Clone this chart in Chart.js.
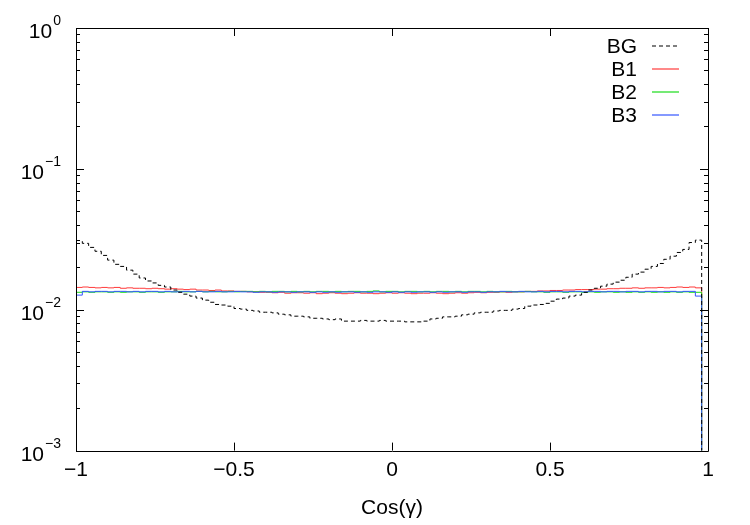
<!DOCTYPE html>
<html>
<head>
<meta charset="utf-8">
<script src="https://cdn.jsdelivr.net/npm/chart.js@4"></script>
<style>
  html, body { margin: 0; padding: 0; background: #fff; }
  #chart { display: block; }
</style>
</head>
<body>
<canvas id="chart" width="750" height="525"></canvas>
<script>
// histogram of cos(gamma): 100 bins from -1 to 1
const xMin = -1;
const xMax = 1;
const nBins = 100;
const xTicks = [-1, -0.5, 0, 0.5, 1];
const yDecades = [1, 0.1, 0.01, 0.001];
const yExponents = ["0", "−1", "−2", "−3"];
const seriesNames = ["BG", "B1", "B2", "B3"];
const emptyBin = 1e-6; // empty bins sit below the axis

const bg = [
  0.0310, 0.0296, 0.0277, 0.0260, 0.0243, 0.0225, 0.0210, 0.0203, 0.0191, 0.0179,
  0.0168, 0.0160, 0.0155, 0.0149, 0.0145, 0.0138, 0.0133, 0.0129, 0.0125, 0.0121,
  0.0117, 0.0113, 0.0109, 0.0108, 0.0106, 0.0102, 0.0101, 0.0099, 0.0098, 0.0096,
  0.0096, 0.0095, 0.0093, 0.0092, 0.0090, 0.0090, 0.0089, 0.0087, 0.0087, 0.0086,
  0.0085, 0.0086, 0.0083, 0.0083, 0.0083, 0.0084, 0.0083, 0.0083, 0.0084, 0.0083,
  0.0083, 0.0083, 0.0082, 0.0082, 0.0082, 0.0083, 0.0086, 0.0087, 0.0089, 0.0089,
  0.0090, 0.0092, 0.0093, 0.0095, 0.0096, 0.0096, 0.0098, 0.0099, 0.0099, 0.0101,
  0.0102, 0.0106, 0.0108, 0.0109, 0.0111, 0.0115, 0.0119, 0.0121, 0.0125, 0.0127,
  0.0133, 0.0138, 0.0142, 0.0147, 0.0152, 0.0157, 0.0162, 0.0170, 0.0179, 0.0185,
  0.0194, 0.0203, 0.0213, 0.0228, 0.0240, 0.0255, 0.0268, 0.0300, 0.0312, 0
];
const b1 = [
  0.0144, 0.0145, 0.0144, 0.0143, 0.0144, 0.0143, 0.0144, 0.0142, 0.0143, 0.0142,
  0.0142, 0.0141, 0.0142, 0.0141, 0.0140, 0.0141, 0.0140, 0.0139, 0.0140, 0.0138,
  0.0138, 0.0137, 0.0138, 0.0136, 0.0136, 0.0135, 0.0135, 0.0134, 0.0134, 0.0133,
  0.0133, 0.0132, 0.0133, 0.0131, 0.0132, 0.0132, 0.0131, 0.0132, 0.0130, 0.0131,
  0.0132, 0.0131, 0.0130, 0.0131, 0.0132, 0.0131, 0.0131, 0.0130, 0.0131, 0.0132,
  0.0131, 0.0132, 0.0131, 0.0130, 0.0131, 0.0131, 0.0132, 0.0131, 0.0130, 0.0131,
  0.0132, 0.0131, 0.0132, 0.0133, 0.0132, 0.0133, 0.0133, 0.0134, 0.0133, 0.0134,
  0.0134, 0.0135, 0.0135, 0.0136, 0.0136, 0.0137, 0.0137, 0.0138, 0.0138, 0.0139,
  0.0139, 0.0139, 0.0140, 0.0140, 0.0141, 0.0141, 0.0142, 0.0142, 0.0143, 0.0142,
  0.0143, 0.0143, 0.0144, 0.0143, 0.0144, 0.0145, 0.0144, 0.0145, 0.0143, 0
];
const b2 = [
  0.0133, 0.0134, 0.0133, 0.0134, 0.0134, 0.0133, 0.0134, 0.0133, 0.0134, 0.0134,
  0.0133, 0.0134, 0.0134, 0.0133, 0.0134, 0.0134, 0.0135, 0.0134, 0.0134, 0.0135,
  0.0134, 0.0135, 0.0134, 0.0134, 0.0135, 0.0134, 0.0135, 0.0135, 0.0134, 0.0135,
  0.0134, 0.0135, 0.0135, 0.0134, 0.0135, 0.0134, 0.0135, 0.0134, 0.0135, 0.0135,
  0.0134, 0.0135, 0.0134, 0.0135, 0.0135, 0.0134, 0.0135, 0.0136, 0.0134, 0.0135,
  0.0135, 0.0134, 0.0135, 0.0135, 0.0134, 0.0135, 0.0134, 0.0135, 0.0135, 0.0134,
  0.0135, 0.0134, 0.0135, 0.0135, 0.0134, 0.0135, 0.0134, 0.0134, 0.0135, 0.0134,
  0.0134, 0.0135, 0.0134, 0.0134, 0.0133, 0.0134, 0.0134, 0.0133, 0.0134, 0.0134,
  0.0133, 0.0134, 0.0133, 0.0134, 0.0134, 0.0133, 0.0134, 0.0133, 0.0134, 0.0133,
  0.0134, 0.0133, 0.0134, 0.0133, 0.0134, 0.0133, 0.0134, 0.0133, 0.0133, 0
];
const b3 = [
  0.0127, 0.0135, 0.0134, 0.0135, 0.0135, 0.0134, 0.0135, 0.0135, 0.0134, 0.0135,
  0.0134, 0.0135, 0.0135, 0.0134, 0.0135, 0.0134, 0.0134, 0.0135, 0.0134, 0.0135,
  0.0134, 0.0134, 0.0135, 0.0134, 0.0134, 0.0135, 0.0134, 0.0134, 0.0133, 0.0134,
  0.0134, 0.0133, 0.0134, 0.0134, 0.0133, 0.0134, 0.0134, 0.0133, 0.0134, 0.0133,
  0.0134, 0.0133, 0.0134, 0.0134, 0.0133, 0.0134, 0.0133, 0.0134, 0.0134, 0.0133,
  0.0134, 0.0133, 0.0134, 0.0133, 0.0134, 0.0134, 0.0133, 0.0134, 0.0133, 0.0134,
  0.0134, 0.0133, 0.0134, 0.0134, 0.0133, 0.0134, 0.0134, 0.0135, 0.0134, 0.0134,
  0.0135, 0.0134, 0.0134, 0.0135, 0.0134, 0.0135, 0.0135, 0.0134, 0.0135, 0.0135,
  0.0134, 0.0135, 0.0135, 0.0134, 0.0135, 0.0135, 0.0134, 0.0135, 0.0135, 0.0134,
  0.0135, 0.0135, 0.0134, 0.0135, 0.0135, 0.0134, 0.0135, 0.0135, 0.0125, 0
];

const font = "Liberation Sans, Arial, Helvetica, sans-serif";
const binWidth = (xMax - xMin) / nBins;

// step points: left edge of every bin, plus the right edge of the last one
const toSteps = (vals) => {
  const pts = vals.map((v, i) => ({ x: xMin + i * binWidth, y: v > 0 ? v : emptyBin }));
  pts.push({ x: xMax, y: pts[pts.length - 1].y });
  return pts;
};

const styles = [
  { color: "#000000", dash: [4, 3], order: 0 },
  { color: "#ff3a3a", dash: [], order: 3 },
  { color: "#18dc18", dash: [], order: 2 },
  { color: "#3355ff", dash: [], order: 1 },
];

const datasets = [bg, b1, b2, b3].map((vals, i) => ({
  label: seriesNames[i],
  data: toSteps(vals),
  borderColor: styles[i].color,
  borderDash: styles[i].dash,
  borderWidth: 1,
  stepped: "before",
  pointRadius: 0,
  fill: false,
  order: styles[i].order,
}));

// box, inward ticks, 10^n labels and gnuplot style key
const gnuFrame = {
  id: "gnuFrame",
  afterDraw(chart) {
    const { ctx, chartArea: a, scales } = chart;
    const xs = scales.x, ys = scales.y;
    ctx.save();
    ctx.strokeStyle = "#000";
    ctx.lineWidth = 1;
    ctx.setLineDash([]);
    ctx.beginPath();
    ctx.rect(Math.round(a.left) + 0.5, Math.round(a.top) + 0.5,
      Math.round(a.right - a.left), Math.round(a.bottom - a.top));
    yDecades.forEach((d) => {
      const py = Math.round(ys.getPixelForValue(d)) + 0.5;
      ctx.moveTo(a.left, py); ctx.lineTo(a.left + 8, py);
      ctx.moveTo(a.right, py); ctx.lineTo(a.right - 8, py);
      if (d < 1) {
        for (let m = 2; m <= 9; m++) {
          const my = Math.round(ys.getPixelForValue(d * m)) + 0.5;
          ctx.moveTo(a.left, my); ctx.lineTo(a.left + 4, my);
          ctx.moveTo(a.right, my); ctx.lineTo(a.right - 4, my);
        }
      }
    });
    xTicks.forEach((v) => {
      const px = Math.round(xs.getPixelForValue(v)) + 0.5;
      ctx.moveTo(px, a.bottom); ctx.lineTo(px, a.bottom - 8);
      ctx.moveTo(px, a.top); ctx.lineTo(px, a.top + 8);
    });
    ctx.stroke();

    // y labels as 10 with a raised exponent
    ctx.fillStyle = "#000";
    ctx.textAlign = "right";
    ctx.textBaseline = "alphabetic";
    yDecades.forEach((d, i) => {
      const py = ys.getPixelForValue(d);
      const right = a.left - 15;
      ctx.font = `14px ${font}`;
      const ew = ctx.measureText(yExponents[i]).width;
      ctx.fillText(yExponents[i], right, py - 3);
      ctx.font = `21px ${font}`;
      ctx.fillText("10", right - ew - 1, py + 10);
    });

    // key
    seriesNames.forEach((name, i) => {
      const base = a.top + 25 + i * 23;
      ctx.font = `21px ${font}`;
      ctx.textAlign = "right";
      ctx.fillStyle = "#000";
      ctx.fillText(name, a.right - 71, base);
      ctx.strokeStyle = styles[i].color;
      ctx.lineWidth = 1.2;
      ctx.setLineDash(styles[i].dash);
      ctx.beginPath();
      const ly = Math.round(base - 7);
      ctx.moveTo(a.right - 56, ly);
      ctx.lineTo(a.right - 29, ly);
      ctx.stroke();
    });
    ctx.restore();
  },
};

new Chart(document.getElementById("chart"), {
  type: "line",
  data: { datasets },
  options: {
    responsive: false,
    animation: false,
    layout: { padding: { left: 76, top: 28, right: 42, bottom: 4 } },
    plugins: { legend: { display: false }, tooltip: { enabled: false } },
    scales: {
      x: {
        type: "linear",
        min: xMin,
        max: xMax,
        grid: { display: false, drawTicks: false },
        border: { display: false },
        afterBuildTicks: (s) => { s.ticks = xTicks.map((v) => ({ value: v })); },
        ticks: {
          padding: 7,
          color: "#000",
          font: { family: font, size: 21 },
          maxRotation: 0,
          callback: (v) => String(v).replace("-", "−"),
        },
        title: {
          display: true,
          text: "Cos(γ)",
          color: "#000",
          font: { family: font, size: 21 },
          padding: { top: 6, bottom: 0 },
        },
      },
      y: {
        type: "logarithmic",
        min: 0.001,
        max: 1,
        display: false,
      },
    },
  },
  plugins: [gnuFrame],
});
</script>
</body>
</html>
